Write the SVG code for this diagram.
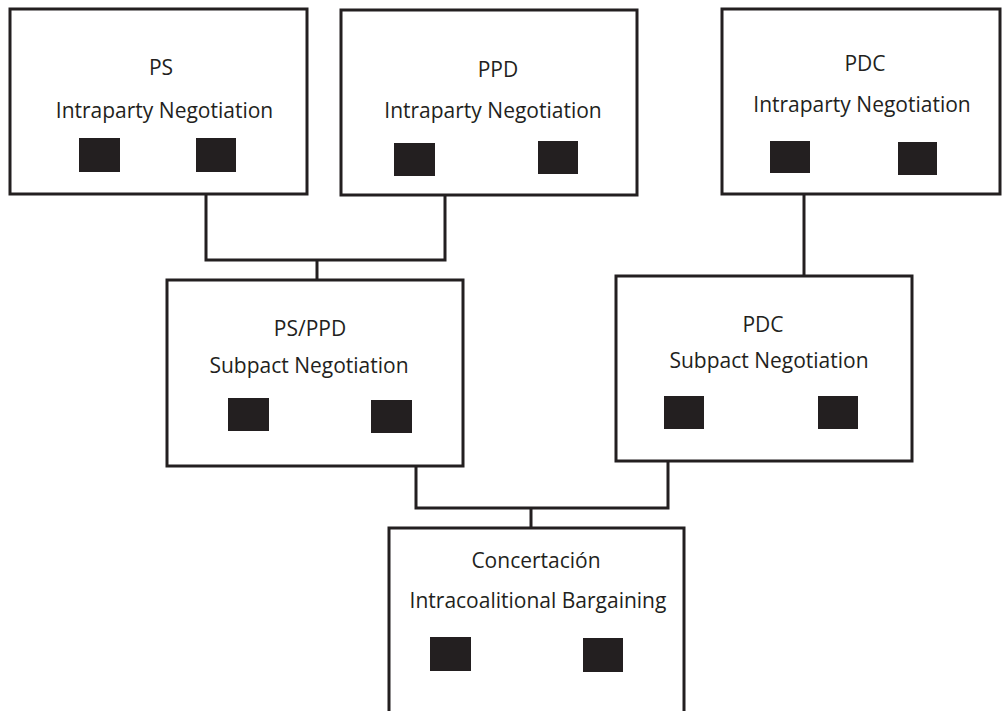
<svg xmlns="http://www.w3.org/2000/svg" width="1008" height="711" viewBox="0 0 1008 711">
<style>
.box{fill:#fff;stroke:#231f20;stroke-width:3}
.sq{fill:#231f20}
.t{font-family:"Open Sans","Liberation Sans",sans-serif;font-size:21px;fill:#231f20;text-anchor:middle}
.c{fill:none;stroke:#231f20;stroke-width:3}
</style>
<rect width="1008" height="711" fill="#fff"/>
<g id="connectors">
<polyline class="c" points="206,194 206,260 445,260 445,195"/>
<line class="c" x1="317" y1="260" x2="317" y2="280"/>
<line class="c" x1="804" y1="194" x2="804" y2="276"/>
<polyline class="c" points="416,466 416,508 668,508 668,461"/>
<line class="c" x1="531" y1="508" x2="531" y2="528"/>
</g>
<g id="ps">
<rect class="box" x="10" y="9" width="297" height="185"/>
<text class="t" x="161" y="75">PS</text>
<text class="t" x="164.5" y="118">Intraparty Negotiation</text>
<rect class="sq" x="79" y="138" width="41" height="34"/>
<rect class="sq" x="196" y="138" width="40" height="34"/>
</g>
<g id="ppd">
<rect class="box" x="341" y="10" width="296" height="185"/>
<text class="t" x="498" y="77">PPD</text>
<text class="t" x="493" y="118">Intraparty Negotiation</text>
<rect class="sq" x="394" y="143" width="41" height="33"/>
<rect class="sq" x="538" y="141" width="40" height="33"/>
</g>
<g id="pdc">
<rect class="box" x="722" y="9" width="278" height="185"/>
<text class="t" x="865" y="71">PDC</text>
<text class="t" x="862" y="112">Intraparty Negotiation</text>
<rect class="sq" x="770" y="141" width="40" height="32"/>
<rect class="sq" x="898" y="142" width="39" height="33"/>
</g>
<g id="pspdd-subpact">
<rect class="box" x="167" y="280" width="296" height="186"/>
<text class="t" x="310" y="336">PS/PPD</text>
<text class="t" x="309" y="373">Subpact Negotiation</text>
<rect class="sq" x="228" y="398" width="41" height="33"/>
<rect class="sq" x="371" y="400" width="41" height="33"/>
</g>
<g id="pdc-subpact">
<rect class="box" x="616" y="276" width="296" height="185"/>
<text class="t" x="763" y="332">PDC</text>
<text class="t" x="769" y="368">Subpact Negotiation</text>
<rect class="sq" x="664" y="396" width="40" height="33"/>
<rect class="sq" x="818" y="396" width="40" height="33"/>
</g>
<g id="concertacion">
<rect class="box" x="389" y="528" width="295" height="200"/>
<text class="t" x="536" y="568">Concertación</text>
<text class="t" x="538" y="608">Intracoalitional Bargaining</text>
<rect class="sq" x="430" y="637" width="41" height="34"/>
<rect class="sq" x="583" y="638" width="40" height="34"/>
</g>
</svg>
